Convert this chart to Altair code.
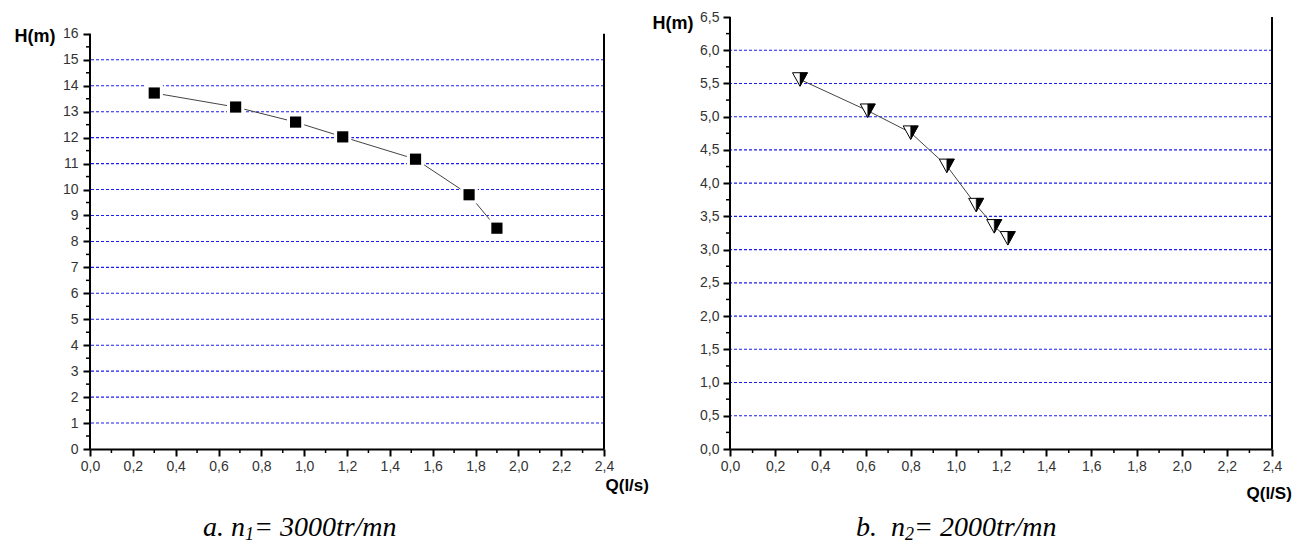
import altair as alt
import pandas as pd

# ---- data ----
q1 = [0.30, 0.68, 0.96, 1.18, 1.52, 1.77, 1.90]
h1 = [13.72, 13.18, 12.60, 12.03, 11.17, 9.80, 8.51]
q2 = [0.31, 0.61, 0.80, 0.96, 1.09, 1.17, 1.23]
h2 = [5.56, 5.09, 4.76, 4.26, 3.67, 3.35, 3.17]

x_ticks = [0.0, 0.2, 0.4, 0.6, 0.8, 1.0, 1.2, 1.4, 1.6, 1.8, 2.0, 2.2, 2.4]
x_minor = [0.1, 0.3, 0.5, 0.7, 0.9, 1.1, 1.3, 1.5, 1.7, 1.9, 2.1, 2.3]

y1_ticks = [0, 1, 2, 3, 4, 5, 6, 7, 8, 9, 10, 11, 12, 13, 14, 15, 16]
y1_minor = [0.5, 1.5, 2.5, 3.5, 4.5, 5.5, 6.5, 7.5, 8.5, 9.5, 10.5, 11.5,
            12.5, 13.5, 14.5, 15.5]
y1_grid = [1, 2, 3, 4, 5, 6, 7, 8, 9, 10, 11, 12, 13, 14, 15]

y2_ticks = [0.0, 0.5, 1.0, 1.5, 2.0, 2.5, 3.0, 3.5, 4.0, 4.5, 5.0, 5.5, 6.0, 6.5]
y2_minor = [0.25, 0.75, 1.25, 1.75, 2.25, 2.75, 3.25, 3.75, 4.25, 4.75,
            5.25, 5.75, 6.25]
y2_grid = [0.5, 1.0, 1.5, 2.0, 2.5, 3.0, 3.5, 4.0, 4.5, 5.0, 5.5, 6.0]

caption_a = ["a. n", "1", "= 3000tr/mn"]
caption_b = ["b.\u00a0\u00a0n", "2", "= 2000tr/mn"]

SANS = "Liberation Sans"
SERIF = "Liberation Serif"
GRID = "#1c1cf0"
LBL = "#333333"

TRI_FULL = "M-1,-0.9L1,-0.9L0,0.9Z"
TRI_HALF = "M0,-0.9L1,-0.9L0,0.9Z"


def panel(q, h, W, H, ydom, yticks, yminor, ygrid, yfmt, ytop,
          xtitle, xtitle_x, xtitle_y, ytitle_x, ytitle_y, ylabpad,
          marker, caption, cap_x, cap_w):
    xs = alt.Scale(domain=[0, 2.4], nice=False, zero=False)
    ys = alt.Scale(domain=ydom, nice=False, zero=False)
    pts = pd.DataFrame({"Q": q, "H": h})

    xaxis = alt.Axis(
        values=x_ticks,
        labelExpr="replace(format(datum.value, '.1f'), '.', ',')",
        grid=False, domainColor="black", domainWidth=2,
        tickColor="black", tickWidth=2, tickSize=7,
        labelFont=SANS, labelFontSize=14, labelColor=LBL, labelPadding=3,
        labelFlush=False, labelOverlap=False, labelBound=False,
        title=xtitle, titleX=xtitle_x, titleY=xtitle_y, titleAlign="left",
        titleBaseline="middle", titleAngle=0, titleFont=SANS,
        titleFontSize=17, titleFontWeight="bold", titleColor="black",
    )
    yaxis = alt.Axis(
        values=yticks,
        labelExpr=yfmt,
        grid=False, domain=False,
        tickColor="black", tickWidth=2, tickSize=7,
        labelFont=SANS, labelFontSize=14, labelColor=LBL, labelPadding=ylabpad,
        labelFlush=False, labelOverlap=False, labelBound=False,
        title="H(m)", titleX=ytitle_x, titleY=ytitle_y, titleAlign="right",
        titleBaseline="middle", titleAngle=0, titleFont=SANS,
        titleFontSize=18, titleFontWeight="bold", titleColor="black",
    )

    def X(f):
        return alt.X(f, scale=xs, axis=xaxis)

    def Y(f):
        return alt.Y(f, scale=ys, axis=yaxis)

    grid = alt.Chart(pd.DataFrame({"g": ygrid})).mark_rule(
        color=GRID, strokeDash=[3, 2], strokeWidth=1.1
    ).encode(y=Y("g:Q"))

    frame = alt.Chart(pd.DataFrame({"xr": [0.0, 2.4], "y0": [0, 0],
                                    "y1": [ytop, ytop]})).mark_rule(
        color="black", strokeWidth=2
    ).encode(x=X("xr:Q"), y=Y("y0:Q"), y2="y1:Q")

    yminor_r = alt.Chart(pd.DataFrame({"m": yminor})).mark_rule(
        color="black", strokeWidth=1.5
    ).encode(y=Y("m:Q"), x=alt.value(-4), x2=alt.value(0))

    xminor_r = alt.Chart(pd.DataFrame({"m": x_minor})).mark_rule(
        color="black", strokeWidth=1.5
    ).encode(x=X("m:Q"), y=alt.value(H), y2=alt.value(H + 4))

    line = alt.Chart(pts).mark_line(color="#444444", strokeWidth=1).encode(
        x=X("Q:Q"), y=Y("H:Q"))

    enc = dict(x=X("Q:Q"), y=Y("H:Q"))
    if marker == "square":
        m1 = alt.Chart(pts).mark_square(size=300, color="white", opacity=1).encode(**enc)
        m2 = alt.Chart(pts).mark_square(size=125, color="black", opacity=1).encode(**enc)
    else:
        m1 = alt.Chart(pts).mark_point(shape=TRI_FULL, filled=True, color="white",
                                       stroke="black", strokeWidth=1, size=225,
                                       opacity=1).encode(**enc)
        m2 = alt.Chart(pts).mark_point(shape=TRI_HALF, filled=True, color="black",
                                       stroke="black", strokeWidth=0.5, size=225,
                                       opacity=1).encode(**enc)

    fs = 28
    x1 = cap_x
    x2 = x1 + cap_w * fs
    x3 = x2 + 9
    base_y = 519
    c1 = alt.Chart(pd.DataFrame({"t": [caption[0]]})).mark_text(
        align="left", baseline="alphabetic", font=SERIF, fontStyle="italic",
        fontSize=fs, color="black").encode(text="t:N", x=alt.value(x1), y=alt.value(base_y))
    c2 = alt.Chart(pd.DataFrame({"t": [caption[1]]})).mark_text(
        align="left", baseline="alphabetic", font=SERIF, fontStyle="italic",
        fontSize=18, color="black").encode(text="t:N", x=alt.value(x2), y=alt.value(base_y + 4))
    c3 = alt.Chart(pd.DataFrame({"t": [caption[2]]})).mark_text(
        align="left", baseline="alphabetic", font=SERIF, fontStyle="italic",
        fontSize=fs, color="black").encode(text="t:N", x=alt.value(x3), y=alt.value(base_y))

    return alt.layer(grid, frame, yminor_r, xminor_r, line, m1, m2, c1, c2, c3).properties(
        width=W, height=H)


left = panel(q1, h1, 514, 432, [0, 16.65], y1_ticks, y1_minor, y1_grid,
             "format(datum.value, 'd')", 16,
             "Q(l/s)", 515, 36, -35, 19, 5, "square", caption_a, 113, 1.5)
right = panel(q2, h2, 542, 432, [0, 6.5], y2_ticks, y2_minor, y2_grid,
              "replace(format(datum.value, '.1f'), '.', ',')", 6.5,
              "Q(l/S)", 516, 44, -37, 6, 4, "triangle", caption_b, 126, 1.75)

chart = alt.hconcat(left, right, spacing=126, bounds="flush").properties(
    padding={"left": 14, "top": 10, "right": 14, "bottom": 4},
    background="white",
).configure_view(stroke=None)

chart.save("out.html", embed_options={"renderer": "svg", "actions": False})
